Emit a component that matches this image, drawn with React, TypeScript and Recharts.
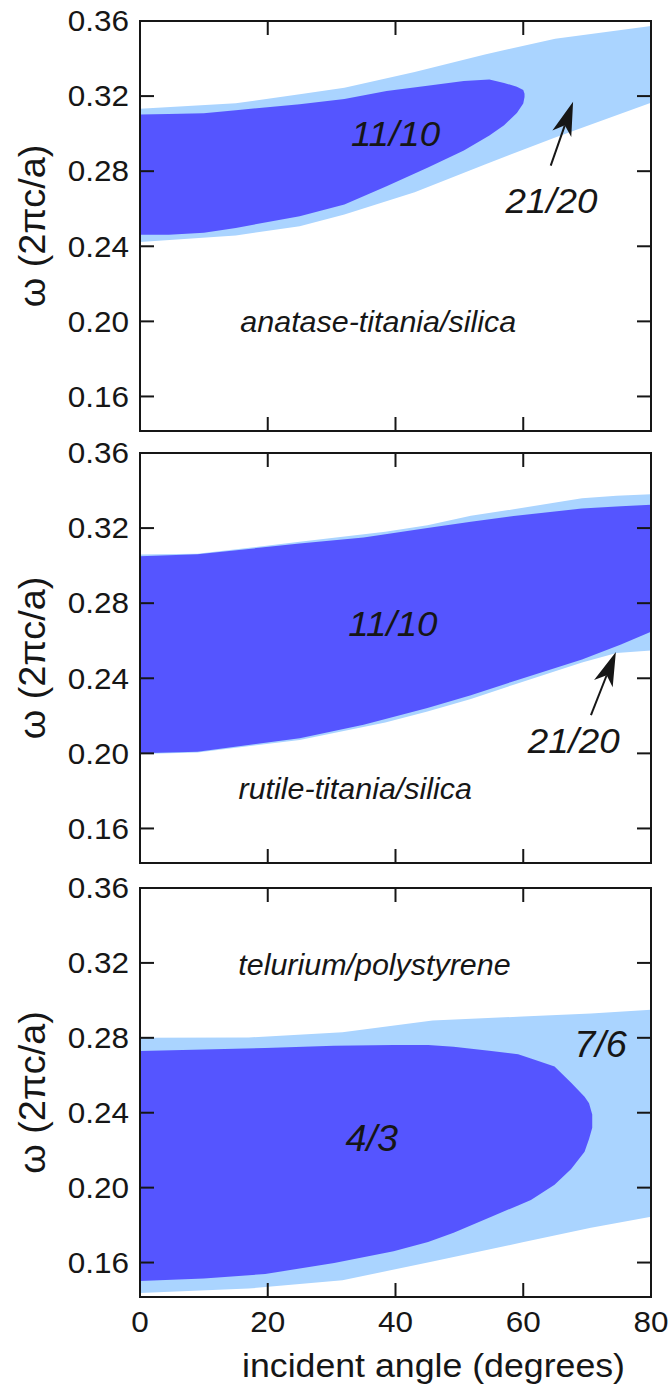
import React from 'react'
import { ComposedChart, Area, XAxis, YAxis, Scatter, ReferenceLine, Label } from 'recharts'

const angleTicks = [0, 20, 40, 60, 80]
const freqTicks = [0.16, 0.2, 0.24, 0.28, 0.32, 0.36]
const freqDomain: [number, number] = [0.1416, 0.36]

// [angle, lower edge, upper edge]
const anatase2120 = [
  [0, 0.2423, 0.3132], [15, 0.2458, 0.3162], [25, 0.2507, 0.321], [32, 0.2569, 0.3245],
  [43, 0.2688, 0.3328], [54, 0.2836, 0.3422], [65, 0.298, 0.3505], [80, 0.3164, 0.3573],
]
const anatase1110 = [
  [0, 0.2462, 0.3102], [4.5, 0.2462, 0.3104], [10, 0.2472, 0.3108], [15, 0.2498, 0.3125],
  [25, 0.256, 0.3157], [32, 0.2622, 0.3185], [38.6, 0.272, 0.3227], [45, 0.2818, 0.3255],
  [50.7, 0.291, 0.328], [54.7, 0.299, 0.3289], [57, 0.3045, 0.327], [59, 0.311, 0.325],
  [60, 0.316, 0.3232], [60.2, 0.3195, 0.3212],
]
const rutile2120 = [
  [0, 0.1996, 0.3059], [9, 0.2005, 0.3063], [25, 0.2071, 0.3127], [38.4, 0.2165, 0.318],
  [45, 0.2223, 0.3215], [51.8, 0.229, 0.3266], [58.5, 0.2366, 0.33], [69.2, 0.2484, 0.3359],
  [74.6, 0.2534, 0.3372], [80, 0.2548, 0.338],
]
const rutile1110 = [
  [0, 0.2, 0.305], [9, 0.2009, 0.306], [25, 0.208, 0.3118], [35, 0.2152, 0.315],
  [45, 0.2241, 0.32], [51.8, 0.231, 0.3234], [58.5, 0.2384, 0.3265], [69.2, 0.25, 0.3305],
  [75.3, 0.258, 0.3316], [80, 0.2648, 0.3325],
]
const telurium76 = [
  [0, 0.1438, 0.28], [17, 0.1461, 0.2802], [31.7, 0.1506, 0.283], [45.8, 0.1605, 0.2892],
  [59.9, 0.1708, 0.2914], [70.6, 0.1786, 0.293], [80, 0.1845, 0.295],
]
const telurium43 = [
  [0, 0.1501, 0.273], [10, 0.1515, 0.2738], [19.6, 0.1539, 0.2746], [30.4, 0.1597, 0.2757],
  [39.7, 0.166, 0.2761], [45.1, 0.171, 0.2761], [49.1, 0.1759, 0.2752], [55, 0.1845, 0.273],
  [59.2, 0.1905, 0.2712], [61.2, 0.1934, 0.269], [64.9, 0.2015, 0.2647], [67.5, 0.21, 0.256],
  [69.6, 0.2192, 0.2485], [70.3, 0.226, 0.245], [70.8, 0.232, 0.239],
]

// [angle, freq, text, size]
const anataseNotes = [
  [40, 0.2996, '11/10', 35], [64.4, 0.264, '21/20', 35], [37.3, 0.2, 'anatase-titania/silica', 29],
]
const rutileNotes = [
  [39.6, 0.2689, '11/10', 35], [67.9, 0.2064, '21/20', 35], [33.7, 0.1809, 'rutile-titania/silica', 29],
]
const teluriumNotes = [
  [36.7, 0.3188, 'telurium/polystyrene', 29], [36.3, 0.226, '4/3', 36], [72.1, 0.276, '7/6', 36],
]

// [tail angle, tail freq, tip angle, tip freq]
const anataseArrow = [64.3, 0.283, 67.8, 0.317]
const rutileArrow = [70.6, 0.2204, 74.5, 0.254]

const DARK = '#5555ff'
const LIGHT = '#aad4ff'
const INK = '#161616'
const SX = 1.05
const FONT = "'Liberation Sans', Arial, Helvetica, sans-serif"

const band = (rows: number[][]) => rows.map(([x, lo, hi]) => ({ x, r: [lo, hi] }))
const notes = (rows: (number | string)[][]) =>
  rows.map(([x, y, text, size]) => ({ x, y, text, size }))
const segment = ([x1, y1, x2, y2]: number[]) => [{ x: x1, y: y1 }, { x: x2, y: y2 }]

function StretchText({ x, y, size, italic, anchor = 'middle', rotate = 0, children }: any) {
  return (
    <text
      transform={`translate(${x},${y}) rotate(${rotate}) scale(${SX},1)`}
      textAnchor={anchor}
      dominantBaseline="central"
      fontFamily={FONT}
      fontSize={size}
      fontStyle={italic ? 'italic' : 'normal'}
      fill={INK}
    >
      {children}
    </text>
  )
}

const NoTick = () => <g />

function FreqTick({ x, y, payload }: any) {
  return (
    <StretchText x={x} y={y} size={30} anchor="end">
      {Number(payload.value).toFixed(2)}
    </StretchText>
  )
}

function AngleTick({ x, y, payload }: any) {
  return (
    <StretchText x={x} y={y} size={30}>
      {payload.value}
    </StretchText>
  )
}

function NoteShape({ cx, cy, payload }: any) {
  return (
    <StretchText x={cx} y={cy} size={payload.size} italic>
      {payload.text}
    </StretchText>
  )
}

function Arrow({ x1, y1, x2, y2 }: any) {
  const len = Math.hypot(x2 - x1, y2 - y1)
  const ux = (x2 - x1) / len
  const uy = (y2 - y1) / len
  const L = 34, W = 10, N = 9
  const bx = x2 - ux * L
  const by = y2 - uy * L
  const nx = x2 - ux * (L - N)
  const ny = y2 - uy * (L - N)
  const pts = `${x2},${y2} ${bx - uy * W},${by + ux * W} ${nx},${ny} ${bx + uy * W},${by - ux * W}`
  return (
    <g>
      <line x1={x1} y1={y1} x2={nx} y2={ny} stroke={INK} strokeWidth={2} />
      <polygon points={pts} fill={INK} />
    </g>
  )
}

function YTitle({ viewBox }: any) {
  return (
    <StretchText x={viewBox.x + 33} y={viewBox.y + viewBox.height / 2} size={36} rotate={-90}>
      ω (2πc/a)
    </StretchText>
  )
}

function XTitle({ viewBox }: any) {
  return (
    <StretchText x={viewBox.x + viewBox.width / 2 + 38} y={viewBox.y + 68} size={34}>
      incident angle (degrees)
    </StretchText>
  )
}

const frame = { stroke: INK, strokeWidth: 2, strokeLinecap: 'square' as const }

type PanelProps = {
  top: number
  height: number
  marginTop: number
  light: number[][]
  dark: number[][]
  labels: (number | string)[][]
  arrow?: number[]
  showAngle?: boolean
}

function Panel({ top, height, marginTop, light, dark, labels, arrow, showAngle }: PanelProps) {
  return (
    <div style={{ position: 'absolute', left: 0, top }}>
      <ComposedChart
        width={671}
        height={height}
        margin={{ top: marginTop, right: 19, left: 0, bottom: showAngle ? 0 : 8 }}
      >
        <Area
          xAxisId="b"
          yAxisId="l"
          data={band(light)}
          dataKey="r"
          type="linear"
          fill={LIGHT}
          fillOpacity={1}
          stroke="none"
          isAnimationActive={false}
        />
        <Area
          xAxisId="b"
          yAxisId="l"
          data={band(dark)}
          dataKey="r"
          type="linear"
          fill={DARK}
          fillOpacity={1}
          stroke="none"
          isAnimationActive={false}
        />
        {arrow && (
          <ReferenceLine xAxisId="b" yAxisId="l" segment={segment(arrow)} shape={Arrow} />
        )}
        <Scatter
          xAxisId="b"
          yAxisId="l"
          data={notes(labels)}
          dataKey="y"
          shape={NoteShape}
          isAnimationActive={false}
        />
        <XAxis
          xAxisId="b"
          type="number"
          dataKey="x"
          domain={[0, 80]}
          ticks={angleTicks}
          interval={0}
          allowDataOverflow
          height={showAngle ? 94 : 1}
          tickSize={-13}
          tickMargin={38}
          tick={showAngle ? AngleTick : NoTick}
          axisLine={frame}
          tickLine={frame}
        >
          {showAngle && <Label content={XTitle} />}
        </XAxis>
        <XAxis
          xAxisId="t"
          orientation="top"
          type="number"
          dataKey="x"
          domain={[0, 80]}
          ticks={angleTicks}
          interval={0}
          allowDataOverflow
          height={1}
          tickSize={-13}
          tick={NoTick}
          axisLine={frame}
          tickLine={frame}
        />
        <YAxis
          yAxisId="l"
          type="number"
          domain={freqDomain}
          ticks={freqTicks}
          interval={0}
          allowDataOverflow
          width={140}
          tickSize={-13}
          tickMargin={24}
          tick={FreqTick}
          axisLine={frame}
          tickLine={frame}
        >
          <Label content={YTitle} />
        </YAxis>
        <YAxis
          yAxisId="r"
          orientation="right"
          type="number"
          domain={freqDomain}
          ticks={freqTicks}
          interval={0}
          allowDataOverflow
          width={1}
          tickSize={-13}
          tick={NoTick}
          axisLine={frame}
          tickLine={frame}
        />
      </ComposedChart>
    </div>
  )
}

export default function App() {
  return (
    <div style={{ position: 'absolute', left: 0, top: 0, width: 671, height: 1391, background: '#fff' }}>
      <Panel top={0} height={440} marginTop={20} light={anatase2120} dark={anatase1110} labels={anataseNotes} arrow={anataseArrow} />
      <Panel top={425} height={447} marginTop={27} light={rutile2120} dark={rutile1110} labels={rutileNotes} arrow={rutileArrow} />
      <Panel top={855} height={536} marginTop={32} light={telurium76} dark={telurium43} labels={teluriumNotes} showAngle />
    </div>
  )
}
